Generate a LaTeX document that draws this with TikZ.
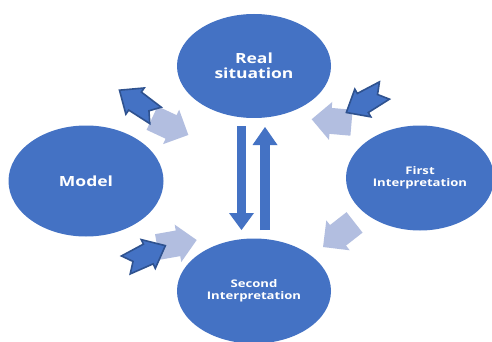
\documentclass[tikz,border=0pt]{standalone}
\usepackage{fontspec}
\setmainfont{Open Sans}[FakeStretch=1.25]
\usetikzlibrary{shapes.geometric,arrows.meta}
\definecolor{oblue}{RGB}{68,114,196}
\definecolor{odark}{RGB}{47,82,143}
\definecolor{olight}{RGB}{178,190,224}
\begin{document}
\begin{tikzpicture}[x=1pt,y=-1pt,
  blob/.style={ellipse, fill=oblue, inner sep=0pt, text=white, align=center},
  bigtext/.style={font=\bfseries\fontsize{14}{15}\selectfont},
  smalltext/.style={font=\bfseries\fontsize{10.5}{12.5}\selectfont},
  vblock/.style={draw=oblue, color=oblue},
  darrow/.pic={\draw[odark, line width=1.6pt, fill=oblue, line join=miter]
      (22,0) -- (3,16) -- (3,11) -- (-22,10) -- (-14,0) -- (-22,-10) -- (3,-11) -- (3,-16) -- cycle;},
  larrow/.pic={\fill[olight]
      (20,0) -- (1,19) -- (1,13) -- (-20,13) -- (-20,-13) -- (1,-13) -- (1,-19) -- cycle;}
]
\useasboundingbox[fill=white] (0,0) rectangle (492,342);

% ellipses
\node[blob, bigtext, minimum width=154pt, minimum height=104pt] (real) at (254,66) {Real\\situation};
\node[blob, bigtext, minimum width=155pt, minimum height=111pt] (model) at (86,181) {Model};
\node[blob, smalltext, minimum width=148pt, minimum height=105pt] (first) at (420,178) {First\\Interpretation};
\node[blob, smalltext, minimum width=154pt, minimum height=105pt] (second) at (254,291) {Second\\Interpretation};

% vertical block arrows
\coordinate (dtop) at (241.5,126);
\coordinate (dbot) at (241.5,230);
\coordinate (ubot) at (265,230);
\coordinate (utop) at (265,127);
\draw[vblock, line width=9pt, -{Triangle[width=25pt,length=17pt,line width=0pt]}] (dtop) -- (dbot);
\draw[vblock, line width=10pt, -{Triangle[width=25pt,length=18pt,line width=0pt]}] (ubot) -- (utop);

% light arrows
\pic[rotate=-25] at (170.2,126.5) {larrow};
\pic[rotate=175] at (331.6,121) {larrow};
\pic[rotate=10] at (177,243.5) {larrow};
\pic[rotate=218] at (338.8,234.7) {larrow};

% dark arrows
\pic[rotate=145] at (137.5,102.8) {darrow};
\pic[rotate=210] at (365.4,101.5) {darrow};
\pic[rotate=26] at (145.6,255.3) {darrow};
\end{tikzpicture}
\end{document}
